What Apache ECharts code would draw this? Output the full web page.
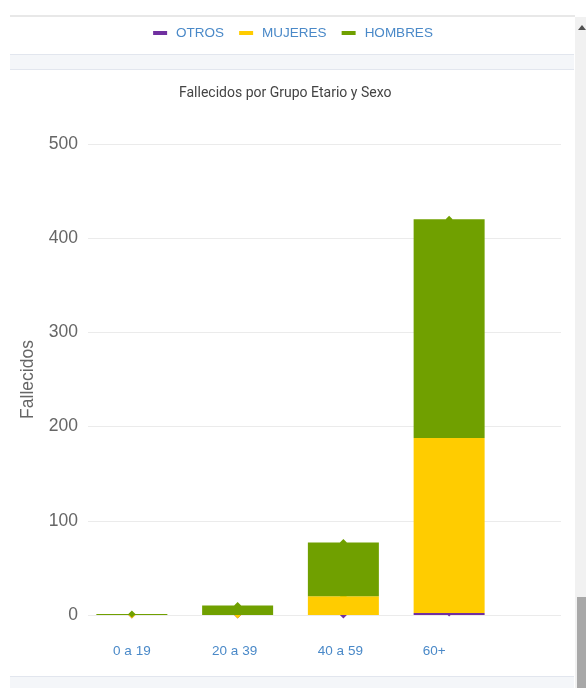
<!DOCTYPE html>
<html>
<head>
<meta charset="utf-8">
<script src="https://cdn.jsdelivr.net/npm/echarts@6/dist/echarts.min.js"></script>
<style>
  html,body{margin:0;padding:0;width:586px;height:688px;overflow:hidden;background:#fff;}
  .abs{position:absolute;}
  #chart{position:absolute;left:0;top:0;width:586px;height:688px;}
</style>
</head>
<body>
<div class="abs" style="left:10px;top:15px;width:565px;height:2px;background:#e8e8e8;"></div>
<div class="abs" style="left:10px;top:54px;width:564px;height:16px;background:#f4f6f9;border-top:1px solid #e2e6ee;border-bottom:1px solid #e2e6ee;box-sizing:border-box;"></div>
<div class="abs" style="left:10px;top:676px;width:564px;height:12px;background:#f4f6f9;border-top:1px solid #e2e6ee;box-sizing:border-box;"></div>
<div class="abs" style="left:575px;top:17px;width:11px;height:671px;background:#f1f1f1;"></div>
<div class="abs" style="left:578px;top:25px;width:0;height:0;border-left:4px solid transparent;border-right:4px solid transparent;border-bottom:5px solid #505050;"></div>
<div class="abs" style="left:577px;top:597px;width:9px;height:91px;background:#a8a8a8;"></div>
<div id="chart"></div>
<script>
const categories = ['0 a 19', '20 a 39', '40 a 59', '60+'];
const otros = [0, 0, 0, 2];
const mujeres = [0, 0, 20, 186];
const hombres = [1, 10, 57, 232];
const yTicks = [0, 100, 200, 300, 400, 500];

const colors = { OTROS: '#7030a0', MUJERES: '#ffcc00', HOMBRES: '#70a000' };
const seriesDefs = [['OTROS', otros], ['MUJERES', mujeres], ['HOMBRES', hombres]];
// horizontal nudges of the category labels (px), as seen in the reference
const labelShift = [0, 3, 3, 15];

const chart = echarts.init(document.getElementById('chart'), null, { renderer: 'canvas' });

const series = [];
seriesDefs.forEach(([name, data]) => {
  series.push({
    name: name, type: 'line', stack: 'marks', data: data,
    xAxisIndex: 0, yAxisIndex: 0,
    symbol: 'diamond', symbolSize: 7, showSymbol: true,
    lineStyle: { width: 0, opacity: 0 },
    itemStyle: { color: colors[name] },
    z: 1, silent: true, animation: false
  });
});
seriesDefs.forEach(([name, data]) => {
  series.push({
    name: name, type: 'bar', stack: 'total', data: data,
    xAxisIndex: 0, yAxisIndex: 0,
    barWidth: 71,
    itemStyle: { color: colors[name] },
    z: 3, animation: false
  });
});

const labelFont = { fontFamily: 'Liberation Sans, Arial, sans-serif', fontSize: 13.5, color: '#4a89c8' };
const rich = {};
labelShift.forEach((s, i) => {
  rich['l' + i] = Object.assign({ padding: [0, 2 * s, 0, 0] }, labelFont);
});

chart.setOption({
  animation: false,
  title: {
    text: 'Fallecidos por Grupo Etario y Sexo',
    left: 179, top: 86, padding: 0,
    textStyle: { fontFamily: 'Roboto', fontSize: 14, fontWeight: 'normal', color: '#444' }
  },
  legend: {
    data: ['OTROS', 'MUJERES', 'HOMBRES'],
    left: 'center', top: 26, padding: 0,
    icon: 'rect', itemWidth: 14, itemHeight: 4, itemGap: 15,
    itemStyle: { borderWidth: 0 },
    textStyle: { fontFamily: 'Liberation Sans, Arial, sans-serif', fontSize: 13.5, color: '#4a89c8', padding: [0, 0, 0, 4] }
  },
  grid: [
    { left: 79, right: 84, top: 144, bottom: 73 },
    { left: 88, right: 25, top: 144, bottom: 73 }
  ],
  xAxis: [
    {
      type: 'category', gridIndex: 0, data: categories,
      axisLine: { show: false }, axisTick: { show: false },
      axisLabel: Object.assign({
        margin: 29,
        formatter: function (v, i) { return '{l' + i + '|' + v + '}'; },
        rich: rich
      }, labelFont)
    },
    { type: 'category', gridIndex: 1, data: categories, show: false }
  ],
  yAxis: [
    {
      type: 'value', gridIndex: 0, min: yTicks[0], max: yTicks[yTicks.length - 1], interval: 100,
      name: 'Fallecidos', nameLocation: 'middle', nameGap: 42,
      nameTextStyle: { fontFamily: 'Liberation Sans, Arial, sans-serif', fontSize: 17.5, color: '#666' },
      axisLine: { show: false }, axisTick: { show: false },
      splitLine: { show: false },
      axisLabel: { margin: 1, fontFamily: 'Liberation Sans, Arial, sans-serif', fontSize: 17.5, color: '#666' }
    },
    {
      type: 'value', gridIndex: 1, min: yTicks[0], max: yTicks[yTicks.length - 1], interval: 100,
      axisLine: { show: false }, axisTick: { show: false }, axisLabel: { show: false },
      splitLine: { show: true, lineStyle: { color: '#ebebeb', width: 1 } },
      z: 0
    }
  ],
  series: series
});
</script>
</body>
</html>
